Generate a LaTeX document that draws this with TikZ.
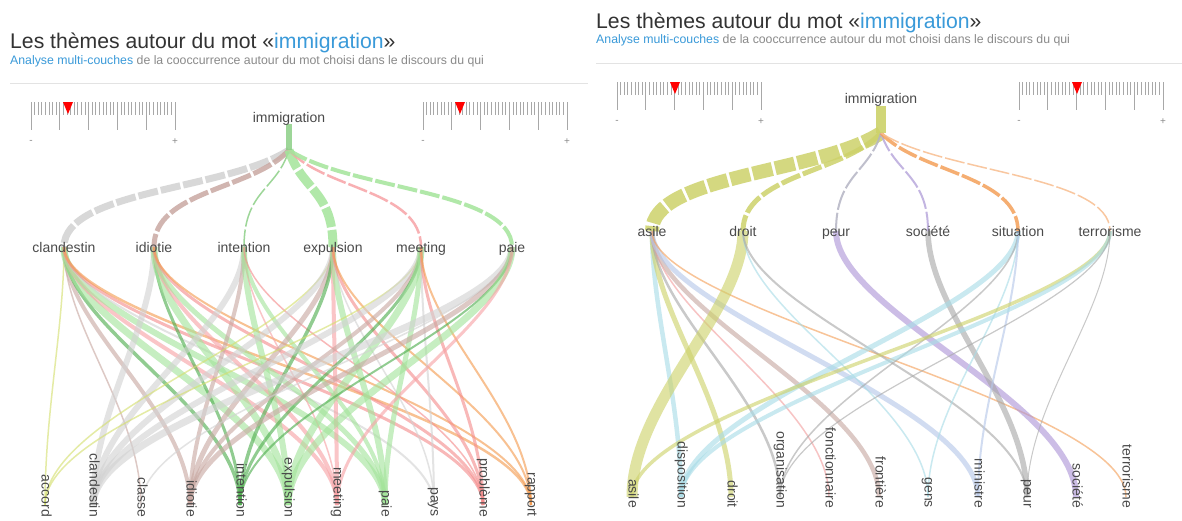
\documentclass[tikz,border=0pt]{standalone}
\usepackage{fontspec}
\setmainfont{Liberation Sans}
\definecolor{titlegray}{HTML}{333333}
\definecolor{linkblue}{HTML}{3A9AD9}
\definecolor{subgray}{HTML}{8A8A8A}
\definecolor{labgray}{HTML}{4A4A4A}
\definecolor{sepgray}{HTML}{E3E3E3}
\definecolor{tickgray}{HTML}{A8A8A8}
\definecolor{cAcc}{HTML}{D5DF6E}
\definecolor{cGray}{HTML}{D2D2D2}
\definecolor{cBrown}{HTML}{C9A9A3}
\definecolor{cDGreen}{HTML}{4FAE4F}
\definecolor{cTGreen}{HTML}{8CCF86}
\definecolor{cLGreen}{HTML}{A4E49B}
\definecolor{cPink}{HTML}{F7A3A6}
\definecolor{cRed}{HTML}{F58E8E}
\definecolor{cOrange}{HTML}{F49B50}
\definecolor{rOlive}{HTML}{CDD26A}
\definecolor{rBlue}{HTML}{A8DCE7}
\definecolor{rGray}{HTML}{A8A8A8}
\definecolor{rPink}{HTML}{F3A0A0}
\definecolor{rBrown}{HTML}{C8A8A2}
\definecolor{rLav}{HTML}{B6C8EA}
\definecolor{rPurple}{HTML}{AE96D8}
\definecolor{rOrange}{HTML}{F4A05A}
\definecolor{rPeur}{HTML}{B4B4C4}
\definecolor{rSoc}{HTML}{B9A9DC}
\definecolor{rTerr}{HTML}{F8BE90}
\tikzset{
  titlefont/.style={anchor=base west, text=titlegray, font=\fontsize{21.2}{25}\selectfont, inner sep=0pt},
  subfont/.style={anchor=base west, text=subgray, font=\fontsize{12.3}{14}\selectfont, inner sep=0pt},
  sepline/.style={draw=sepgray, line width=1pt},
  tickline/.style={draw=tickgray, line width=0.7pt},
  rulerlab/.style={text=subgray, font=\fontsize{10}{12}\selectfont, inner sep=0pt},
  rootlab/.style={text=labgray, font=\fontsize{14}{16}\selectfont, inner sep=1pt, text height=10pt, text depth=3pt, yshift=-2pt},
  midlab/.style={text=labgray, font=\fontsize{14}{16}\selectfont, inner sep=1pt, text height=10pt, text depth=3pt, yshift=-2pt},
  botlab/.style={text=labgray, font=\fontsize{14}{16}\selectfont, inner sep=0pt, text height=10pt, text depth=3pt, rotate=-90, anchor=east},
  topedge/.style={dash pattern=on 20pt off 3pt, opacity=0.85},
  botedge/.style={opacity=0.62},
}
% ruler: #1 x0, #2 y0, #3 triangle x, #4 name prefix
\newcommand\myruler[4]{%
  \foreach \i in {0,...,40} {\draw[tickline] ({#1+\i*3.6},#2) -- ++(0,13);}
  \foreach \i in {0,...,5} {\draw[tickline] ({#1+\i*28.8},#2) -- ++(0,28);}
  \fill[red] ({#3-5},#2) -- ({#3+5},#2) -- (#3,{#2+12}) -- cycle;
  \node[rulerlab] (#4minus) at (#1,{#2+40}) {-};
  \node[rulerlab] (#4plus) at ({#1+144},{#2+40}) {+};
}
% top edges
\newcommand\teL[5]{\draw[topedge, draw=#3, line width=#4pt] (#1) .. controls +(#5,40) and +(0,-57) .. (#2);}
\newcommand\teR[5]{\draw[topedge, draw=#3, line width=#4pt] (#1) .. controls +(#5,40) and +(0,-56) .. (#2);}
% bottom edges
\newcommand\be[4]{\draw[botedge, draw=#3, line width=#4pt] (#1) .. controls +(0,80) and +(0,-95) .. (#2);}
\begin{document}
\begin{tikzpicture}[x=1pt,y=-1pt]
\fill[white] (0,0) rectangle (1182,520);
\useasboundingbox (0,0) rectangle (1182,520);

% ---------------- LEFT PANEL ----------------
\node[titlefont] (Ltitle) at (10,48) {Les thèmes autour du mot «\textcolor{linkblue}{immigration}»};
\node[subfont] (Lsub) at (10,64) {\textcolor{linkblue}{Analyse multi-couches} de la cooccurrence autour du mot choisi dans le discours du qui};
\coordinate (LsepA) at (10,83); \coordinate (LsepB) at (588,83);
\draw[sepline] (LsepA) -- (LsepB);
\myruler{31}{102}{68}{La}
\myruler{423}{102}{460}{Lb}

\coordinate (Ltop) at (289,124);
\coordinate (Lroot) at (289,150);
\coordinate (L1) at (64,247);
\coordinate (L2) at (154,247);
\coordinate (L3) at (244,247);
\coordinate (L4) at (333,247);
\coordinate (L5) at (421,247);
\coordinate (L6) at (512,247);
\coordinate (LB1) at (45,505);
\coordinate (LB2) at (93,505);
\coordinate (LB3) at (141,505);
\coordinate (LB4) at (190,505);
\coordinate (LB5) at (240,505);
\coordinate (LB6) at (288,505);
\coordinate (LB7) at (337,505);
\coordinate (LB8) at (385,505);
\coordinate (LB9) at (434,505);
\coordinate (LB10) at (483,505);
\coordinate (LB11) at (531,505);

% bottom layer (left)
\be{L1}{LB1}{cAcc}{1.5}
\be{L1}{LB3}{cBrown}{1.5}
\be{L1}{LB4}{cBrown}{4}
\be{L1}{LB5}{cDGreen}{3.5}
\be{L1}{LB6}{cLGreen}{7}
\be{L1}{LB7}{cPink}{4}
\be{L1}{LB8}{cLGreen}{6}
\be{L1}{LB9}{cGray}{2}
\be{L1}{LB10}{cRed}{3}
\be{L1}{LB11}{cOrange}{2.5}
\be{L2}{LB2}{cGray}{6}
\be{L2}{LB5}{cDGreen}{3}
\be{L2}{LB6}{cLGreen}{7}
\be{L2}{LB7}{cPink}{4}
\be{L2}{LB8}{cLGreen}{5}
\be{L2}{LB10}{cRed}{3}
\be{L2}{LB11}{cOrange}{2}
\be{L3}{LB2}{cGray}{6}
\be{L3}{LB4}{cBrown}{4}
\be{L3}{LB6}{cLGreen}{6}
\be{L3}{LB7}{cPink}{1.5}
\be{L3}{LB8}{cLGreen}{4}
\be{L3}{LB10}{cRed}{1.5}
\be{L4}{LB1}{cAcc}{1.5}
\be{L4}{LB2}{cGray}{6}
\be{L4}{LB4}{cBrown}{5}
\be{L4}{LB5}{cDGreen}{3.5}
\be{L4}{LB7}{cPink}{4}
\be{L4}{LB8}{cLGreen}{6}
\be{L4}{LB9}{cGray}{1.5}
\be{L4}{LB10}{cRed}{3}
\be{L4}{LB11}{cOrange}{2}
\be{L5}{LB1}{cAcc}{1.5}
\be{L5}{LB2}{cGray}{6}
\be{L5}{LB4}{cBrown}{4}
\be{L5}{LB5}{cDGreen}{3}
\be{L5}{LB6}{cLGreen}{7}
\be{L5}{LB8}{cLGreen}{5}
\be{L5}{LB9}{cGray}{2}
\be{L5}{LB10}{cRed}{3}
\be{L5}{LB11}{cOrange}{2}
\be{L6}{LB2}{cGray}{7}
\be{L6}{LB3}{cGray}{1.5}
\be{L6}{LB4}{cBrown}{5}
\be{L6}{LB5}{cDGreen}{2}
\be{L6}{LB6}{cLGreen}{7}
\be{L6}{LB7}{cPink}{3}

% top layer (left)
\teL{Lroot}{L1}{cGray}{7}{-61}
\teL{Lroot}{L2}{cBrown}{5}{-36}
\teL{Lroot}{L3}{cTGreen}{1.5}{-12}
\teL{Lroot}{L4}{cLGreen}{9}{12}
\teL{Lroot}{L5}{cPink}{2.5}{36}
\teL{Lroot}{L6}{cLGreen}{4}{60}
\draw[draw=cTGreen, line width=6pt, opacity=0.85] (Ltop) -- (Lroot);

\node[rootlab] (Limm) at (289,117) {immigration};
\node[midlab] (nL1) at (L1) {clandestin};
\node[midlab] (nL2) at (L2) {idiotie};
\node[midlab] (nL3) at (L3) {intention};
\node[midlab] (nL4) at (L4) {expulsion};
\node[midlab] (nL5) at (L5) {meeting};
\node[midlab] (nL6) at (L6) {paie};
\node[botlab] (nLB1) at (45,517) {accord};
\node[botlab] (nLB2) at (93,517) {clandestin};
\node[botlab] (nLB3) at (141,517) {classe};
\node[botlab] (nLB4) at (190,517) {idiotie};
\node[botlab] (nLB5) at (240,517) {intention};
\node[botlab] (nLB6) at (288,517) {expulsion};
\node[botlab] (nLB7) at (337,517) {meeting};
\node[botlab] (nLB8) at (385,517) {paie};
\node[botlab] (nLB9) at (434,517) {pays};
\node[botlab] (nLB10) at (483,517) {problème};
\node[botlab] (nLB11) at (531,517) {rapport};

% ---------------- RIGHT PANEL ----------------
\node[titlefont] (Rtitle) at (596,28) {Les thèmes autour du mot «\textcolor{linkblue}{immigration}»};
\node[subfont] (Rsub) at (596,43) {\textcolor{linkblue}{Analyse multi-couches} de la cooccurrence autour du mot choisi dans le discours du qui};
\coordinate (RsepA) at (596,63); \coordinate (RsepB) at (1182,63);
\draw[sepline] (RsepA) -- (RsepB);
\myruler{617}{82}{675}{Ra}
\myruler{1019}{82}{1077}{Rb}

\coordinate (Rtop) at (881,106);
\coordinate (Rroot) at (881,133);
\coordinate (R1) at (652,231);
\coordinate (R2) at (743,231);
\coordinate (R3) at (836,231);
\coordinate (R4) at (928,231);
\coordinate (R5) at (1018,231);
\coordinate (R6) at (1110,231);
\coordinate (RB1) at (632,497);
\coordinate (RB2) at (681,497);
\coordinate (RB3) at (731,497);
\coordinate (RB4) at (780,497);
\coordinate (RB5) at (829,497);
\coordinate (RB6) at (879,497);
\coordinate (RB7) at (928,497);
\coordinate (RB8) at (978,497);
\coordinate (RB9) at (1027,497);
\coordinate (RB10) at (1076,497);
\coordinate (RB11) at (1126,497);

% bottom layer (right)
\be{R1}{RB2}{rBlue}{4.5}
\be{R1}{RB3}{rOlive}{5}
\be{R1}{RB4}{rGray}{2.5}
\be{R1}{RB5}{rPink}{1.5}
\be{R1}{RB6}{rBrown}{4.5}
\be{R1}{RB8}{rLav}{5}
\be{R1}{RB11}{rOrange}{1.5}
\be{R2}{RB1}{rOlive}{11}
\be{R2}{RB7}{rBlue}{1.5}
\be{R2}{RB9}{rGray}{2}
\be{R3}{RB10}{rPurple}{6}
\be{R4}{RB9}{rGray}{5.5}
\be{R5}{RB2}{rBlue}{5}
\be{R5}{RB4}{rGray}{1.5}
\be{R5}{RB7}{rBlue}{1.5}
\be{R5}{RB8}{rLav}{2}
\be{R6}{RB1}{rOlive}{3.5}
\be{R6}{RB2}{rBlue}{4}
\be{R6}{RB4}{rGray}{1.2}
\be{R6}{RB9}{rGray}{1}

% top layer (right)
\teR{Rroot}{R1}{rOlive}{14}{-62}
\teR{Rroot}{R2}{rOlive}{5}{-37}
\teR{Rroot}{R3}{rPeur}{2}{-12}
\teR{Rroot}{R4}{rSoc}{2}{13}
\teR{Rroot}{R5}{rOrange}{3.5}{37}
\teR{Rroot}{R6}{rTerr}{1.5}{62}
\draw[draw=rOlive, line width=10pt, opacity=0.9] (Rtop) -- (Rroot);

\node[rootlab] (Rimm) at (881,98) {immigration};
\node[midlab] (nR1) at (R1) {asile};
\node[midlab] (nR2) at (R2) {droit};
\node[midlab] (nR3) at (R3) {peur};
\node[midlab] (nR4) at (R4) {société};
\node[midlab] (nR5) at (R5) {situation};
\node[midlab] (nR6) at (R6) {terrorisme};
\node[botlab] (nRB1) at (632,508) {asile};
\node[botlab] (nRB2) at (681,508) {disposition};
\node[botlab] (nRB3) at (731,508) {droit};
\node[botlab] (nRB4) at (780,508) {organisation};
\node[botlab] (nRB5) at (829,508) {fonctionnaire};
\node[botlab] (nRB6) at (879,508) {frontière};
\node[botlab] (nRB7) at (928,508) {gens};
\node[botlab] (nRB8) at (978,508) {ministre};
\node[botlab] (nRB9) at (1027,508) {peur};
\node[botlab] (nRB10) at (1076,508) {société};
\node[botlab] (nRB11) at (1126,508) {terrorisme};
\end{tikzpicture}
\end{document}
